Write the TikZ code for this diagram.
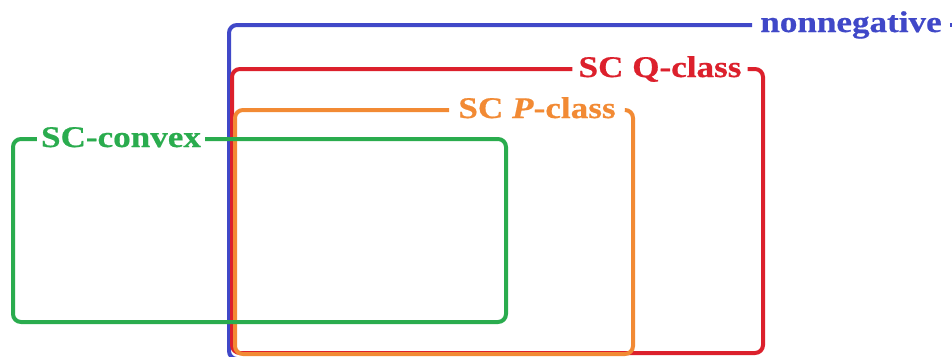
\documentclass[tikz,border=0pt]{standalone}
\usepackage{fontspec}
\setmainfont{Liberation Serif}[FakeStretch=1.17,FakeBold=0.6]
\definecolor{cblue}{RGB}{64,72,200}
\definecolor{cred}{RGB}{220,32,44}
\definecolor{corange}{RGB}{242,138,52}
\definecolor{cgreen}{RGB}{42,172,78}
\begin{document}
\begin{tikzpicture}[x=1pt,y=-1pt,
  boxline/.style={line width=4pt,rounded corners=8pt},
  lab/.style={font=\fontsize{30}{31}\selectfont\bfseries,inner ysep=0pt,anchor=base}]
\clip (0,0) rectangle (952,356);
\fill[white] (0,0) rectangle (952,356);
% coordinates of box corners
\coordinate (nTL) at (229,25);
\coordinate (nBL) at (229,359);
\coordinate (nR) at (970,25);
\coordinate (nBR) at (970,359);
\coordinate (qTL) at (232,69);
\coordinate (qBR) at (763,353);
\coordinate (pTL) at (235,110);
\coordinate (pBR) at (633,354);
\coordinate (cTL) at (13,139);
\coordinate (cBR) at (506,322);
% labels
\node[lab,text=cblue,inner xsep=8pt] (nlab) at (851,32) {nonnegative};
\node[lab,text=cred,inner xsep=6pt] (qlab) at (660,77) {SC Q-class};
\node[lab,text=corange,inner xsep=9pt] (plab) at (537,118) {SC \textit{P}-class};
\node[lab,text=cgreen,inner xsep=4pt] (clab) at (121,147) {SC-convex};
% boxes
\draw[boxline,cblue] (nlab.west |- nTL) -| (nBL) -- (nBR);
\draw[boxline,cblue] (nlab.east |- nTL) -- (nR);
\draw[boxline,cred] (qlab.east |- qTL) -| (qBR) -| (qTL) -- (qlab.west |- qTL);
\draw[boxline,corange] (plab.east |- pTL) -| (pBR) -| (pTL) -- (plab.west |- pTL);
\draw[boxline,cgreen] (clab.east |- cTL) -| (cBR) -| (cTL) -- (clab.west |- cTL);
\end{tikzpicture}
\end{document}
